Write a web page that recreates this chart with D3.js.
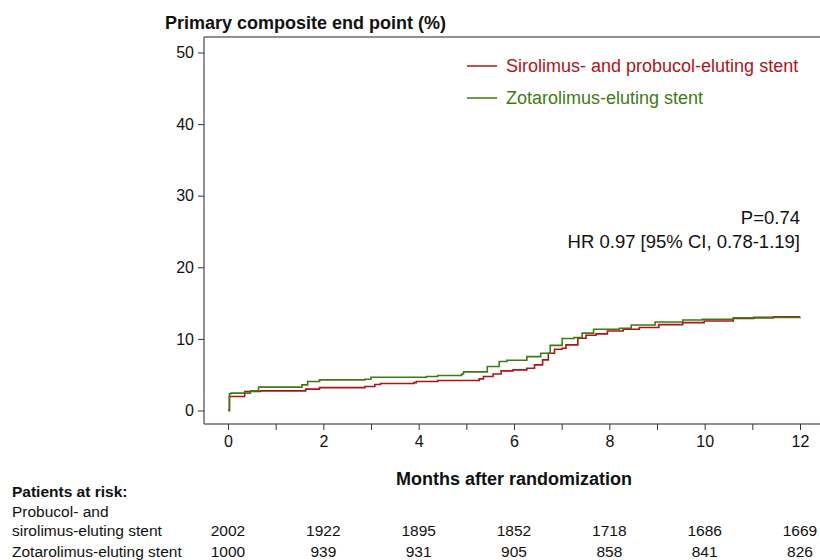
<!DOCTYPE html>
<html>
<head>
<meta charset="utf-8">
<script src="https://cdn.jsdelivr.net/npm/d3@7"></script>
<style>
  body { margin: 0; background: #fff; }
  svg { font-family: "Liberation Sans", Arial, sans-serif; }
</style>
</head>
<body>
<div id="chart"></div>
<script>
// Kaplan-Meier style cumulative event curves, [month, %]
const sirolimusCurve = [
  [0, 0], [0.03, 1.95], [0.35, 2.65], [0.68, 2.74], [1.63, 2.98], [1.92, 3.2],
  [2.87, 3.35], [3.08, 3.63], [3.2, 3.77], [3.9, 3.9], [3.95, 4.05], [4.4, 4.19],
  [5.27, 4.42], [5.36, 4.74], [5.56, 5.1], [5.73, 5.53], [5.98, 5.67], [6.27, 5.9],
  [6.43, 6.37], [6.6, 7.07], [6.72, 8.0], [6.85, 8.56], [7.01, 8.7], [7.09, 9.16],
  [7.34, 10.1], [7.51, 10.5], [7.72, 10.7], [7.96, 11.1], [8.29, 11.35], [8.63, 11.6],
  [9.04, 12.0], [9.54, 12.28], [9.99, 12.51], [10.6, 12.84], [11.03, 13.0],
  [11.44, 13.1], [12, 13.1]
];
const zotarolimusCurve = [
  [0, 0], [0.03, 2.33], [0.06, 2.42], [0.47, 2.74], [0.64, 3.26], [1.55, 3.58],
  [1.67, 4.05], [1.92, 4.28], [2.87, 4.37], [3.0, 4.65], [4.16, 4.74], [4.4, 4.88],
  [4.9, 5.1], [4.94, 5.4], [5.36, 5.4], [5.44, 6.14], [5.69, 6.84], [5.85, 7.02],
  [6.27, 7.53], [6.56, 8.0], [6.76, 9.1], [7.01, 10.05], [7.26, 10.19], [7.43, 10.8],
  [7.67, 11.35], [8.21, 11.49], [8.46, 11.95], [8.96, 12.37], [9.54, 12.65],
  [9.95, 12.74], [10.6, 12.93], [11.44, 12.98], [12, 13.1]
];

const seriesNames = ["Sirolimus- and probucol-eluting stent", "Zotarolimus-eluting stent"];
const seriesColors = ["#ae1319", "#3f7a12"];

const yTicks = [0, 10, 20, 30, 40, 50];
const xLabelTicks = [0, 2, 4, 6, 8, 10, 12];
const xMinorTicks = d3.range(0, 13);

const riskMonths = [0, 2, 4, 6, 8, 10, 12];
const riskSirolimus = [2002, 1922, 1895, 1852, 1718, 1686, 1669];
const riskZotarolimus = [1000, 939, 931, 905, 858, 841, 826];

const width = 820, height = 560;
const frame = { left: 204, top: 37, right: 820, bottom: 424 };

const svg = d3.select("#chart").append("svg")
    .attr("width", width)
    .attr("height", height);

const x = d3.scaleLinear().domain([0, 12]).range([228, 800]);
const y = d3.scaleLinear().domain([0, 50]).range([410.5, 52.5]);

const axisColor = "#6b6b6b";

// frame lines
svg.append("line")
    .attr("x1", frame.left).attr("x2", frame.right)
    .attr("y1", frame.top).attr("y2", frame.top)
    .attr("stroke", axisColor).attr("stroke-width", 1.5);

// y axis
const yAxis = svg.append("g")
    .attr("transform", `translate(${frame.left},0)`)
    .call(d3.axisLeft(y).tickValues(yTicks).tickSize(6).tickPadding(4).tickSizeOuter(0));
yAxis.select(".domain").attr("d", `M0,${frame.top}V${frame.bottom}`)
    .attr("stroke", axisColor).attr("stroke-width", 1.5);

// x axis
const xAxis = svg.append("g")
    .attr("transform", `translate(0,${frame.bottom})`)
    .call(d3.axisBottom(x).tickValues(xMinorTicks).tickSize(6).tickPadding(6)
        .tickFormat(d => xLabelTicks.includes(d) ? d : ""));
xAxis.select(".domain").attr("d", `M${frame.left},0H${frame.right}`)
    .attr("stroke", axisColor).attr("stroke-width", 1.5);

svg.selectAll(".tick line").attr("stroke", "#333");
svg.selectAll(".tick text")
    .attr("font-size", 16)
    .attr("fill", "#111")
    .attr("font-family", "Liberation Sans, Arial, sans-serif");

// curves
const line = d3.line()
    .x(d => x(d[0]))
    .y(d => y(d[1]))
    .curve(d3.curveStepAfter);

[sirolimusCurve, zotarolimusCurve].forEach((data, i) => {
    svg.append("path")
        .datum(data)
        .attr("fill", "none")
        .attr("stroke", seriesColors[i])
        .attr("stroke-width", 1.6)
        .attr("d", line);
});

// title
svg.append("text")
    .attr("x", 165).attr("y", 29)
    .attr("font-size", 18).attr("font-weight", "bold").attr("fill", "#111")
    .text("Primary composite end point (%)");

// legend
seriesNames.forEach((name, i) => {
    const ly = 66 + i * 32;
    svg.append("line")
        .attr("x1", 467).attr("x2", 497)
        .attr("y1", ly).attr("y2", ly)
        .attr("stroke", seriesColors[i]).attr("stroke-width", 1.5);
    svg.append("text")
        .attr("x", 506).attr("y", ly + 6)
        .attr("font-size", 18).attr("fill", seriesColors[i])
        .text(name);
});

// stats
svg.append("text")
    .attr("x", 800).attr("y", 224).attr("text-anchor", "end")
    .attr("font-size", 18.5).attr("fill", "#111")
    .text("P=0.74");
svg.append("text")
    .attr("x", 800).attr("y", 248).attr("text-anchor", "end")
    .attr("font-size", 18.5).attr("fill", "#111")
    .text("HR 0.97 [95% CI, 0.78-1.19]");

// x label
svg.append("text")
    .attr("x", 514).attr("y", 485).attr("text-anchor", "middle")
    .attr("font-size", 18).attr("font-weight", "bold").attr("fill", "#111")
    .text("Months after randomization");

// risk table
svg.append("text")
    .attr("x", 12).attr("y", 497)
    .attr("font-size", 15.5).attr("font-weight", "bold").attr("fill", "#111")
    .text("Patients at risk:");
svg.append("text")
    .attr("x", 12).attr("y", 517)
    .attr("font-size", 15.5).attr("fill", "#111")
    .text("Probucol- and");
svg.append("text")
    .attr("x", 12).attr("y", 536)
    .attr("font-size", 15.5).attr("fill", "#111")
    .text("sirolimus-eluting stent");
svg.append("text")
    .attr("x", 12).attr("y", 557)
    .attr("font-size", 15.5).attr("fill", "#111")
    .text("Zotarolimus-eluting stent");

[[riskSirolimus, 536], [riskZotarolimus, 557]].forEach(([vals, ry]) => {
    svg.append("g").selectAll("text")
        .data(vals)
        .join("text")
        .attr("x", (d, i) => x(riskMonths[i]))
        .attr("y", ry)
        .attr("text-anchor", "middle")
        .attr("font-size", 15.5).attr("fill", "#111")
        .text(d => d);
});
</script>
</body>
</html>
